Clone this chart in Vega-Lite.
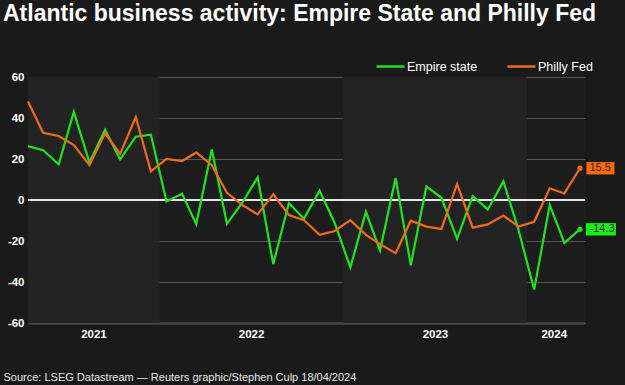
{
  "$schema": "https://vega.github.io/schema/vega-lite/v6.json",
  "width": 557,
  "height": 246,
  "autosize": "none",
  "padding": {"left": 28, "top": 77, "right": 40, "bottom": 62},
  "background": "#1a1a1a",
  "config": {
    "font": "Liberation Sans",
    "view": {"stroke": null, "fill": "#1d1d1d"}
  },
  "title": {
    "text": "Atlantic business activity: Empire State and Philly Fed",
    "anchor": "start",
    "fontSize": 23,
    "fontWeight": "bold",
    "color": "#ffffff",
    "dx": 0,
    "offset": 25
  },
  "data": {
    "values": [
      {"date": "2021-04-15", "series": "Empire state", "value": 26.3},
      {"date": "2021-05-15", "series": "Empire state", "value": 24.3},
      {"date": "2021-06-15", "series": "Empire state", "value": 17.4},
      {"date": "2021-07-15", "series": "Empire state", "value": 43.0},
      {"date": "2021-08-15", "series": "Empire state", "value": 18.3},
      {"date": "2021-09-15", "series": "Empire state", "value": 34.3},
      {"date": "2021-10-15", "series": "Empire state", "value": 19.8},
      {"date": "2021-11-15", "series": "Empire state", "value": 30.9},
      {"date": "2021-12-15", "series": "Empire state", "value": 31.9},
      {"date": "2022-01-15", "series": "Empire state", "value": -0.7},
      {"date": "2022-02-15", "series": "Empire state", "value": 3.1},
      {"date": "2022-03-15", "series": "Empire state", "value": -11.8},
      {"date": "2022-04-15", "series": "Empire state", "value": 24.6},
      {"date": "2022-05-15", "series": "Empire state", "value": -11.6},
      {"date": "2022-06-15", "series": "Empire state", "value": -1.2},
      {"date": "2022-07-15", "series": "Empire state", "value": 11.1},
      {"date": "2022-08-15", "series": "Empire state", "value": -31.3},
      {"date": "2022-09-15", "series": "Empire state", "value": -1.5},
      {"date": "2022-10-15", "series": "Empire state", "value": -9.1},
      {"date": "2022-11-15", "series": "Empire state", "value": 4.5},
      {"date": "2022-12-15", "series": "Empire state", "value": -11.2},
      {"date": "2023-01-15", "series": "Empire state", "value": -32.9},
      {"date": "2023-02-15", "series": "Empire state", "value": -5.8},
      {"date": "2023-03-15", "series": "Empire state", "value": -24.6},
      {"date": "2023-04-15", "series": "Empire state", "value": 10.8},
      {"date": "2023-05-15", "series": "Empire state", "value": -31.8},
      {"date": "2023-06-15", "series": "Empire state", "value": 6.6},
      {"date": "2023-07-15", "series": "Empire state", "value": 1.1},
      {"date": "2023-08-15", "series": "Empire state", "value": -19.0},
      {"date": "2023-09-15", "series": "Empire state", "value": 1.9},
      {"date": "2023-10-15", "series": "Empire state", "value": -4.6},
      {"date": "2023-11-15", "series": "Empire state", "value": 9.1},
      {"date": "2023-12-15", "series": "Empire state", "value": -14.5},
      {"date": "2024-01-15", "series": "Empire state", "value": -43.7},
      {"date": "2024-02-15", "series": "Empire state", "value": -2.4},
      {"date": "2024-03-15", "series": "Empire state", "value": -20.9},
      {"date": "2024-04-15", "series": "Empire state", "value": -14.3},
      {"date": "2021-04-15", "series": "Philly Fed", "value": 48.0},
      {"date": "2021-05-15", "series": "Philly Fed", "value": 32.8},
      {"date": "2021-06-15", "series": "Philly Fed", "value": 31.2},
      {"date": "2021-07-15", "series": "Philly Fed", "value": 26.8},
      {"date": "2021-08-15", "series": "Philly Fed", "value": 17.0},
      {"date": "2021-09-15", "series": "Philly Fed", "value": 32.5},
      {"date": "2021-10-15", "series": "Philly Fed", "value": 22.5},
      {"date": "2021-11-15", "series": "Philly Fed", "value": 40.5},
      {"date": "2021-12-15", "series": "Philly Fed", "value": 14.0},
      {"date": "2022-01-15", "series": "Philly Fed", "value": 20.0},
      {"date": "2022-02-15", "series": "Philly Fed", "value": 19.0},
      {"date": "2022-03-15", "series": "Philly Fed", "value": 23.2},
      {"date": "2022-04-15", "series": "Philly Fed", "value": 17.0},
      {"date": "2022-05-15", "series": "Philly Fed", "value": 3.5},
      {"date": "2022-06-15", "series": "Philly Fed", "value": -2.5},
      {"date": "2022-07-15", "series": "Philly Fed", "value": -7.0},
      {"date": "2022-08-15", "series": "Philly Fed", "value": 2.8},
      {"date": "2022-09-15", "series": "Philly Fed", "value": -7.3},
      {"date": "2022-10-15", "series": "Philly Fed", "value": -9.8},
      {"date": "2022-11-15", "series": "Philly Fed", "value": -17.0},
      {"date": "2022-12-15", "series": "Philly Fed", "value": -15.1},
      {"date": "2023-01-15", "series": "Philly Fed", "value": -9.8},
      {"date": "2023-02-15", "series": "Philly Fed", "value": -17.0},
      {"date": "2023-03-15", "series": "Philly Fed", "value": -21.5},
      {"date": "2023-04-15", "series": "Philly Fed", "value": -26.0},
      {"date": "2023-05-15", "series": "Philly Fed", "value": -10.1},
      {"date": "2023-06-15", "series": "Philly Fed", "value": -13.0},
      {"date": "2023-07-15", "series": "Philly Fed", "value": -14.1},
      {"date": "2023-08-15", "series": "Philly Fed", "value": 7.8},
      {"date": "2023-09-15", "series": "Philly Fed", "value": -13.5},
      {"date": "2023-10-15", "series": "Philly Fed", "value": -11.9},
      {"date": "2023-11-15", "series": "Philly Fed", "value": -7.6},
      {"date": "2023-12-15", "series": "Philly Fed", "value": -13.0},
      {"date": "2024-01-15", "series": "Philly Fed", "value": -10.6},
      {"date": "2024-02-15", "series": "Philly Fed", "value": 5.7},
      {"date": "2024-03-15", "series": "Philly Fed", "value": 3.2},
      {"date": "2024-04-15", "series": "Philly Fed", "value": 15.5}
    ]
  },
  "encoding": {
    "x": {
      "field": "date",
      "type": "temporal",
      "scale": {
        "type": "utc",
        "domain": [
          {"year": 2021, "month": 4, "date": 15, "utc": true},
          {"year": 2024, "month": 4, "date": 25, "utc": true}
        ]
      },
      "axis": {
        "values": [
          {"year": 2021, "month": 8, "date": 23, "utc": true},
          {"year": 2022, "month": 7, "date": 2, "utc": true},
          {"year": 2023, "month": 7, "date": 2, "utc": true},
          {"year": 2024, "month": 2, "date": 23, "utc": true}
        ],
        "format": "%Y",
        "grid": false,
        "ticks": false,
        "domainColor": "#474747",
        "domainWidth": 2.5,
        "labelColor": "#ffffff",
        "labelFontWeight": "bold",
        "labelFontSize": 11.5,
        "labelPadding": 5,
        "labelFlush": false,
        "labelOverlap": false,
        "title": "Source: LSEG Datastream \u2014 Reuters graphic/Stephen Culp 18/04/2024",
        "titleFontSize": 11,
        "titleFontWeight": "normal",
        "titleColor": "#e8e8e8",
        "titleAnchor": "start",
        "titleAlign": "left",
        "titleBaseline": "alphabetic",
        "titleX": -25,
        "titleY": 57
      }
    },
    "y": {
      "field": "value",
      "type": "quantitative",
      "scale": {"domain": [-60, 60], "nice": false, "zero": false},
      "axis": {
        "values": [-60, -40, -20, 0, 20, 40, 60],
        "labelExpr": "replace(datum.label, '\u2212', '-')",
        "grid": true,
        "gridColor": "#575757",
        "gridWidth": 1,
        "domain": false,
        "ticks": false,
        "labelColor": "#ffffff",
        "labelFontWeight": "bold",
        "labelFontSize": 11.5,
        "labelPadding": 4,
        "title": null
      }
    }
  },
  "layer": [
    {
      "data": {
        "values": [
          {"start": "2021-04-15", "end": "2022-01-01"},
          {"start": "2023-01-01", "end": "2024-01-01"}
        ]
      },
      "mark": {"type": "rect", "color": "#232323"},
      "encoding": {
        "x": {"field": "start", "type": "temporal"},
        "x2": {"field": "end"},
        "y": null
      }
    },
    {
      "mark": {"type": "rule", "color": "#e8e8e8", "strokeWidth": 1.5},
      "encoding": {"y": {"datum": 0}, "x": null}
    },
    {
      "mark": {"type": "line", "strokeWidth": 2.2},
      "encoding": {
        "color": {
          "field": "series",
          "type": "nominal",
          "scale": {"domain": ["Empire state", "Philly Fed"], "range": ["#1ee31e", "#f06b1c"]},
          "legend": {
            "title": null,
            "orient": "none",
            "direction": "horizontal",
            "legendX": 347,
            "legendY": -26,
            "symbolType": "stroke",
            "symbolSize": 784,
            "symbolStrokeWidth": 2.5,
            "labelColor": "#ffffff",
            "labelFontSize": 12.5,
            "labelOffset": 1,
            "columnPadding": 24
          }
        }
      }
    },
    {
      "transform": [{"filter": "utcyear(datum.date) == 2024 && utcmonth(datum.date) == 3 && datum.series == 'Empire state'"}],
      "mark": {"type": "point", "filled": true, "opacity": 1, "color": "#14ef14", "size": 154, "shape": "M0.95,-1H5.8V1H0.95Z"}
    },
    {
      "transform": [{"filter": "utcyear(datum.date) == 2024 && utcmonth(datum.date) == 3 && datum.series == 'Philly Fed'"}],
      "mark": {"type": "point", "filled": true, "opacity": 1, "color": "#ff6a0a", "size": 154, "shape": "M1.05,-1H5.55V1H1.05Z"}
    },
    {
      "transform": [{"filter": "utcyear(datum.date) == 2024 && utcmonth(datum.date) == 3"}],
      "mark": {"type": "text", "align": "left", "baseline": "middle", "dx": 9.5, "fontSize": 11, "color": "#262626"},
      "encoding": {"text": {"field": "value", "type": "nominal"}}
    },
    {
      "transform": [{"filter": "utcyear(datum.date) == 2024 && utcmonth(datum.date) == 3"}],
      "mark": {"type": "point", "filled": true, "opacity": 1, "size": 28},
      "encoding": {
        "color": {"field": "series", "type": "nominal"}
      }
    }
  ]
}
